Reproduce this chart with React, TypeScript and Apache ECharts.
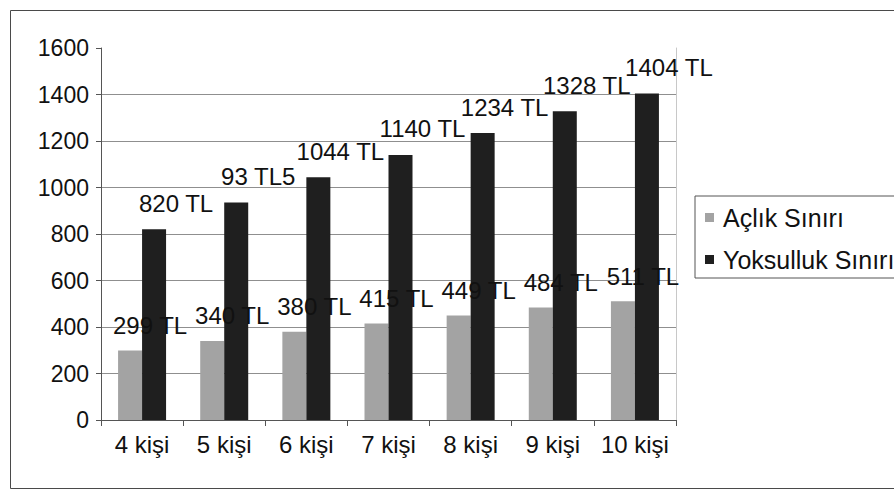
import React, { useEffect, useRef } from "react";
import * as echarts from "echarts";

const categories = ["4 kişi", "5 kişi", "6 kişi", "7 kişi", "8 kişi", "9 kişi", "10 kişi"];
const seriesNames = ["Açlık Sınırı", "Yoksulluk Sınırı"];
const aclikValues = [299, 340, 380, 415, 449, 484, 511];
const yoksullukValues = [820, 935, 1044, 1140, 1234, 1328, 1404];
const aclikLabels = ["299 TL", "340 TL", "380 TL", "415 TL", "449 TL", "484 TL", "511 TL"];
const yoksullukLabels = ["820 TL", "93 TL5", "1044 TL", "1140 TL", "1234 TL", "1328 TL", "1404 TL"];
const yMin = 0;
const yMax = 1600;
const yInterval = 200;

const FONT = "'Liberation Sans', Arial, sans-serif";

export default function App() {
  const ref = useRef<HTMLDivElement>(null);

  useEffect(() => {
    if (!ref.current) return;
    const chart = echarts.init(ref.current, undefined, { renderer: "svg" });
    const gridColors: string[] = [];
    for (let v = yMin; v <= yMax; v += yInterval) {
      gridColors.push(v === yMax ? "rgba(0,0,0,0)" : "#8f8f8f");
    }
    chart.setOption({
      animation: false,
      backgroundColor: "#ffffff",
      graphic: [
        {
          type: "rect",
          shape: { x: 10.5, y: 10.5, width: 900, height: 478 },
          style: { fill: "none", stroke: "#4a4a4a", lineWidth: 1 },
          z: -1,
        },
      ],
      grid: { left: 101, right: 218, top: 48, bottom: 74, containLabel: false },
      legend: {
        orient: "vertical",
        left: 695,
        top: 196,
        padding: [9, 80, 6, 10],
        itemWidth: 9,
        itemHeight: 9,
        itemGap: 17,
        borderColor: "#555",
        borderWidth: 1,
        icon: "rect",
        data: seriesNames,
        textStyle: { fontFamily: FONT, fontSize: 25, color: "#111", padding: [0, 0, 0, 4] },
      },
      xAxis: {
        type: "category",
        data: categories,
        axisLine: { lineStyle: { color: "#555", width: 1 } },
        axisTick: { show: true, length: 6, lineStyle: { color: "#555" } },
        axisLabel: { fontFamily: FONT, fontSize: 24, color: "#111", margin: 12, interval: 0, hideOverlap: false },
      },
      yAxis: [
        {
          type: "value",
          min: yMin,
          max: yMax,
          interval: yInterval,
          axisLine: { show: true, lineStyle: { color: "#555", width: 1 } },
          axisTick: { show: true, length: 5, lineStyle: { color: "#555" } },
          axisLabel: {
            fontFamily: FONT,
            fontSize: 23,
            color: "#111",
            margin: 12,
            formatter: (v: number) => String(v),
          },
          splitLine: { show: true, lineStyle: { color: gridColors, width: 1 } },
        },
        {
          type: "value",
          min: yMin,
          max: yMax,
          interval: yInterval,
          position: "right",
          axisLine: { show: true, lineStyle: { color: "#c8c8c8", width: 1 } },
          axisTick: { show: false },
          axisLabel: { show: false },
          splitLine: { show: false },
        },
      ],
      series: [
        {
          name: seriesNames[0],
          type: "bar",
          data: aclikValues,
          barWidth: 24,
          barGap: "0%",
          itemStyle: { color: "#a3a3a3" },
          label: {
            show: true,
            position: "top",
            distance: 13,
            offset: [20, 0],
            fontFamily: FONT,
            fontSize: 24,
            color: "#111",
            formatter: (p: any) => aclikLabels[p.dataIndex],
          },
        },
        {
          name: seriesNames[1],
          type: "bar",
          data: yoksullukValues,
          barWidth: 24,
          barGap: "0%",
          itemStyle: { color: "#1f1f1f" },
          label: {
            show: true,
            position: "top",
            distance: 14,
            offset: [22, 0],
            fontFamily: FONT,
            fontSize: 24,
            color: "#111",
            formatter: (p: any) => yoksullukLabels[p.dataIndex],
          },
        },
      ],
    });
    return () => chart.dispose();
  }, []);

  return (
    <div
      ref={ref}
      style={{ position: "fixed", left: 0, top: 0, width: 894, height: 494, background: "#fff" }}
    />
  );
}
